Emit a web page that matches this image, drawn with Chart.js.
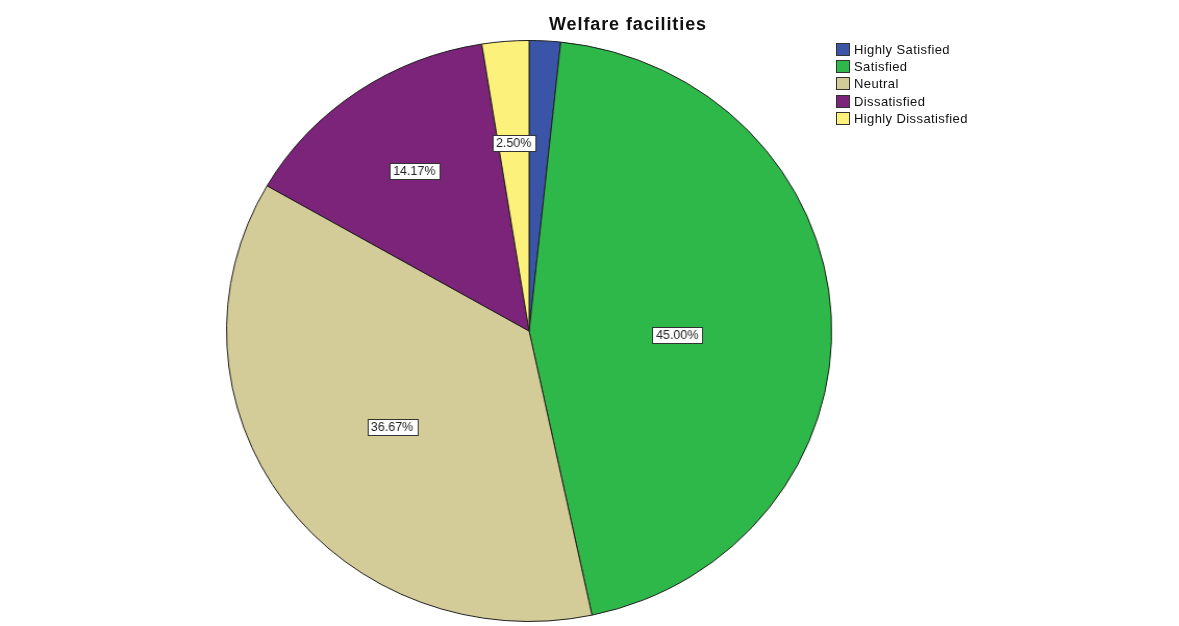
<!DOCTYPE html>
<html>
<head>
<meta charset="utf-8">
<script src="https://cdn.jsdelivr.net/npm/chart.js@4.4.1/dist/chart.umd.min.js"></script>
<style>
  html, body { margin: 0; padding: 0; background: #ffffff; }
  #wrap { position: relative; width: 1179px; height: 626px; overflow: hidden; }
  #c { position: absolute; left: 0; top: 0; }
  #title { position: absolute; left: 478px; width: 300px; top: 14px; text-align: center;
           font: bold 18px "Liberation Sans", Arial, sans-serif; letter-spacing: 0.9px; color: #111; }
  #legend { position: absolute; left: 836px; top: 41px; font: 13px "Liberation Sans", Arial, sans-serif; letter-spacing: 0.4px; color: #111; }
  .row { display: flex; align-items: center; height: 17.2px; }
  .sw { width: 12px; height: 11px; border: 1px solid #333; margin-right: 4px; }
</style>
</head>
<body>
<div id="wrap">
  <canvas id="c" width="1132" height="626" style="width:1179px;height:626px;"></canvas>
  <div id="title"></div>
  <div id="legend"></div>
</div>
<script>
const chartTitle = "Welfare facilities";
const categories = ["Highly Satisfied", "Satisfied", "Neutral", "Dissatisfied", "Highly Dissatisfied"];
const counts = [2, 54, 44, 17, 3];
const colors = ["#3a55a8", "#2fb84a", "#d4cc98", "#7c2479", "#fcf27b"];

const total = counts.reduce((a, b) => a + b, 0);
const percentLabels = counts.map(v => (v / total * 100).toFixed(2) + "%");

document.getElementById("title").textContent = chartTitle;
const leg = document.getElementById("legend");
categories.forEach((name, i) => {
  const row = document.createElement("div");
  row.className = "row";
  const sw = document.createElement("div");
  sw.className = "sw";
  sw.style.background = colors[i];
  const t = document.createElement("span");
  t.textContent = name;
  row.appendChild(sw); row.appendChild(t);
  leg.appendChild(row);
});

const boxLabels = {
  id: "boxLabels",
  afterDatasetsDraw(chart, args, opts) {
    const ctx = chart.ctx;
    const meta = chart.getDatasetMeta(0);
    ctx.save();
    ctx.font = "12px 'Liberation Sans', Arial, sans-serif";
    ctx.textAlign = "center";
    ctx.textBaseline = "middle";
    meta.data.forEach((arc, i) => {
      const share = counts[i] / total;
      if (share < opts.minShare) return;
      const p = arc.getProps(["x", "y", "startAngle", "endAngle", "outerRadius"], true);
      const mid = (p.startAngle + p.endAngle) / 2 + opts.angleShift[i];
      const r = p.outerRadius * opts.radiusFrac[i];
      const x = p.x + Math.cos(mid) * r;
      const y = p.y + Math.sin(mid) * r;
      const txt = percentLabels[i];
      const w = ctx.measureText(txt).width + 7;
      const h = 16;
      ctx.fillStyle = "#ffffff";
      ctx.fillRect(Math.round(x - w / 2) + 0.5, Math.round(y - h / 2) + 0.5, Math.round(w), h);
      ctx.strokeStyle = "#333333";
      ctx.lineWidth = 1;
      ctx.strokeRect(Math.round(x - w / 2) + 0.5, Math.round(y - h / 2) + 0.5, Math.round(w), h);
      ctx.fillStyle = "#222222";
      ctx.fillText(txt, x, y + 1);
    });
    ctx.restore();
  }
};

new Chart(document.getElementById("c"), {
  type: "pie",
  data: {
    labels: categories,
    datasets: [{
      data: counts,
      backgroundColor: colors,
      borderColor: "#1e1e1e",
      borderWidth: 1
    }]
  },
  options: {
    responsive: false,
    animation: false,
    layout: { padding: { left: 217, right: 333, top: 40, bottom: 4 } },
    plugins: {
      legend: { display: false },
      tooltip: { enabled: false },
      title: { display: false },
      boxLabels: {
        minShare: 0.02,
        radiusFrac: [0.5, 0.49, 0.56, 0.67, 0.65],
        angleShift: [0, 0.08, 0, 0, 0]
      }
    }
  },
  plugins: [boxLabels]
});
</script>
</body>
</html>
